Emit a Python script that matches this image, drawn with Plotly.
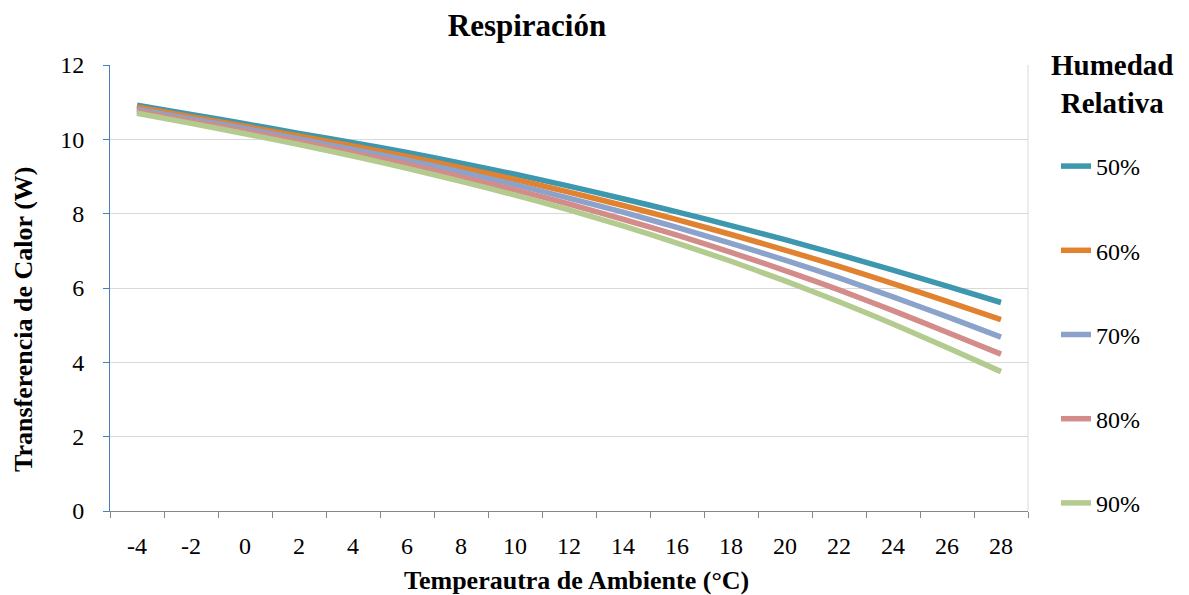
import plotly.graph_objects as go

temps = [-4, -2, 0, 2, 4, 6, 8, 10, 12, 14, 16, 18, 20, 22, 24, 26, 28]
tick_labels = [str(t) for t in temps]

hr_50 = [10.92, 10.67, 10.42, 10.16, 9.91, 9.65, 9.36, 9.06, 8.74, 8.40, 8.05, 7.68, 7.30, 6.90, 6.48, 6.05, 5.61]
hr_60 = [10.87, 10.61, 10.35, 10.09, 9.82, 9.54, 9.24, 8.92, 8.58, 8.22, 7.84, 7.44, 7.02, 6.58, 6.12, 5.64, 5.15]
hr_70 = [10.81, 10.55, 10.29, 10.01, 9.73, 9.44, 9.12, 8.78, 8.42, 8.04, 7.63, 7.20, 6.75, 6.27, 5.76, 5.23, 4.68]
hr_80 = [10.76, 10.49, 10.22, 9.94, 9.64, 9.33, 8.99, 8.64, 8.26, 7.85, 7.42, 6.96, 6.47, 5.95, 5.39, 4.81, 4.22]
hr_90 = [10.70, 10.43, 10.15, 9.86, 9.55, 9.22, 8.87, 8.50, 8.10, 7.67, 7.21, 6.72, 6.19, 5.63, 5.03, 4.40, 3.75]

series_names = ["50%", "60%", "70%", "80%", "90%"]
series_values = [hr_50, hr_60, hr_70, hr_80, hr_90]
series_colors = ["#3d97ae", "#e0822f", "#8ba3cb", "#d38c8a", "#b3cb8e"]

FONT = "Liberation Serif"
W, H = 1189, 595
L, R, T, B = 110, 161, 65, 84
PW, PH = W - L - R, H - T - B

fig = go.Figure()
for name, vals, col in zip(series_names, series_values, series_colors):
    fig.add_trace(go.Scatter(
        x=temps, y=vals, name=name, mode="lines",
        line=dict(color=col, width=5.5, shape="spline", smoothing=0.6),
        legendgroup=name,
    ))

def px_x(px):
    return (px - L) / PW

def px_y(py):
    return (H - B - py) / PH

fig.update_layout(
    width=W, height=H,
    margin=dict(l=L, r=R, t=T, b=B),
    paper_bgcolor="white", plot_bgcolor="white",
    font=dict(family=FONT, color="black", size=24),
    title=dict(text="<b>Respiración</b>", font=dict(family=FONT, size=31, color="black"),
               x=527 / W, xanchor="center", xref="container",
               y=1 - 25 / H, yanchor="middle", yref="container"),
    showlegend=True,
    legend=dict(
        x=px_x(1056), xanchor="left", y=px_y(144), yanchor="top",
        font=dict(family=FONT, size=24, color="black"),
        tracegroupgap=50,
        maxheight=600,
        bgcolor="rgba(0,0,0,0)",
    ),
    xaxis=dict(
        range=[-5, 29], tickvals=temps, ticktext=tick_labels,
        ticks="", showgrid=False, zeroline=False,
        showline=True, linecolor="#868686", linewidth=1,
        tickfont=dict(family=FONT, size=24, color="black"),
        ticklabelstandoff=13,
        minor=dict(ticks="outside", tick0=-5, dtick=2, ticklen=6, tickcolor="#868686",
                   tickwidth=1, showgrid=False),
    ),
    yaxis=dict(
        range=[0, 12], dtick=2, tick0=0,
        showgrid=True, gridcolor="#d9d9d9", gridwidth=1, zeroline=False,
        showline=True, linecolor="#4a7ebb", linewidth=1,
        ticks="outside", ticklen=6, tickcolor="#4a7ebb",
        tickfont=dict(family=FONT, size=24, color="black"),
        ticklabelstandoff=14,
    ),
    shapes=[dict(type="line", xref="paper", yref="paper", x0=1, x1=1, y0=0, y1=1,
                 line=dict(color="#d9d9d9", width=1))],
    annotations=[
        dict(text="<b>Temperautra de Ambiente (°C)</b>", xref="paper", yref="paper",
             x=px_x(576), y=px_y(580), xanchor="center", yanchor="middle", showarrow=False,
             font=dict(family=FONT, size=26, color="black")),
        dict(text="<b>Transferencia de Calor (W)</b>", xref="paper", yref="paper",
             x=px_x(23), y=px_y(320), xanchor="center", yanchor="middle", showarrow=False,
             textangle=-90, font=dict(family=FONT, size=26, color="black")),
        dict(text="<b>Humedad<br>Relativa</b>", xref="paper", yref="paper",
             x=px_x(1112), y=px_y(84), xanchor="center", yanchor="middle", showarrow=False,
             font=dict(family=FONT, size=29, color="black")),
    ],
)

fig.write_html("out.html", config={"displayModeBar": False},
               post_script="document.body.style.margin='0';")
